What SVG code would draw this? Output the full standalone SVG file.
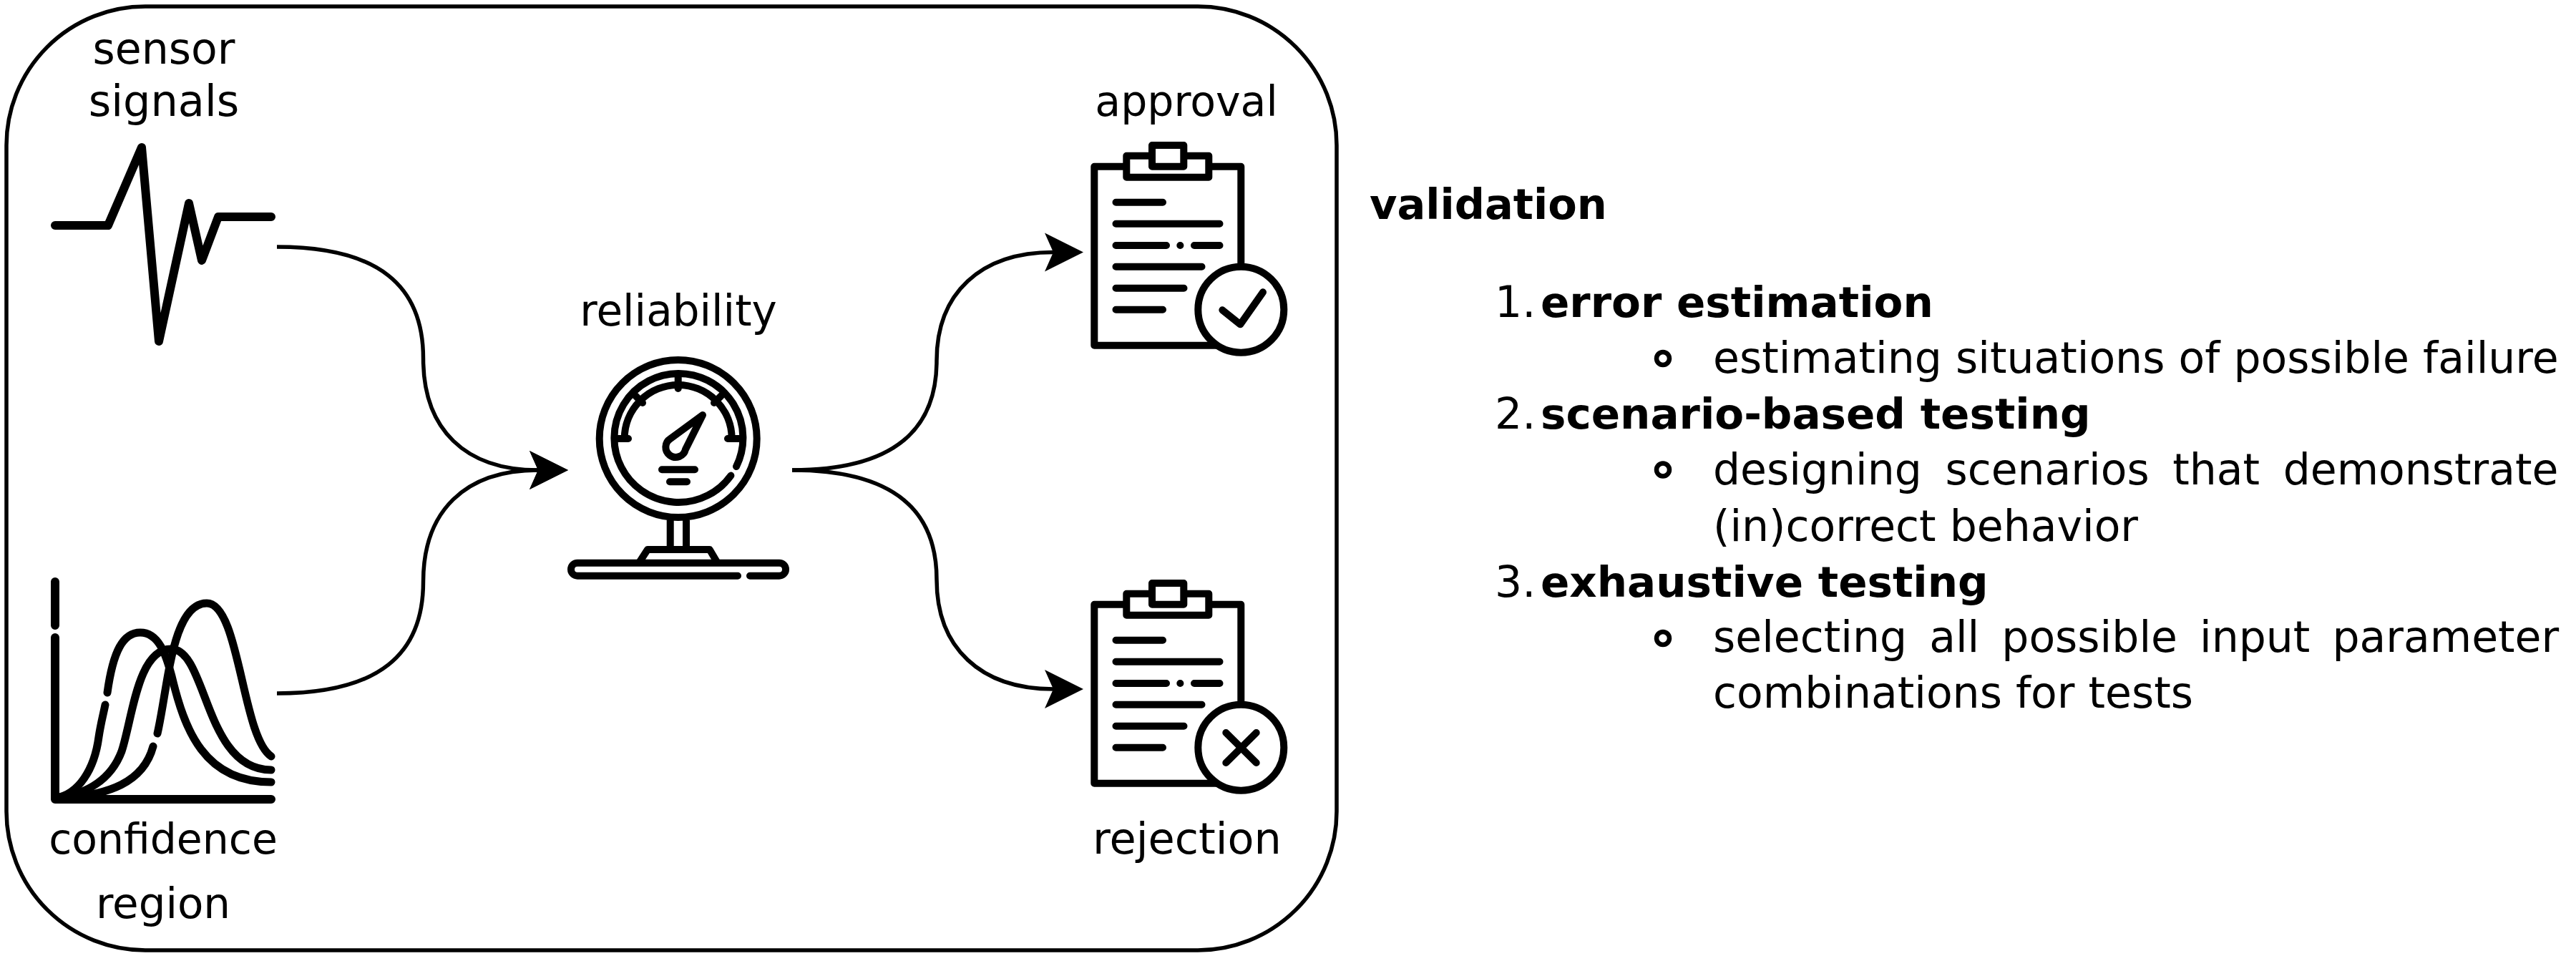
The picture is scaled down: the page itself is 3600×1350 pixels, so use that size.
<svg xmlns="http://www.w3.org/2000/svg" xmlns:xlink="http://www.w3.org/1999/xlink" width="3600" height="1350" viewBox="0 0 3600 1350">
<style>
text{font-family:"DejaVu Sans","Liberation Sans",sans-serif;fill:#000}
.l{font-size:58px;text-anchor:middle}
.t{font-size:60px}
.b{font-weight:bold;font-size:59.5px}
.ic{fill:none;stroke:#000;stroke-linecap:round;stroke-linejoin:round}
.c{fill:none;stroke:#000;stroke-width:5.5;marker-end:url(#ah)}
.w{fill:#fff}
.bu{fill:none;stroke:#000;stroke-width:6.5}
</style>
<defs>
<marker id="ah" markerUnits="userSpaceOnUse" markerWidth="54" markerHeight="54" refX="12" refY="27" orient="0" viewBox="0 0 54 54" overflow="visible"><path d="M54,27 L0,0 L12,27 L0,54 Z" fill="#000"/></marker>
<g id="clip" class="ic" stroke-width="10">
<path d="M1574,232.7 H1529.3 V482.7 H1700 M1690,232.7 H1734.3 V375"/>
<rect x="1574.3" y="217.7" width="115" height="30" class="w"/>
<rect x="1610" y="203" width="44.3" height="29.7" class="w"/>
<path d="M1559.5,282.7 H1625 M1559.5,312.7 H1704.5 M1559.5,343 H1630 M1649.3,343 H1649.4 M1669,343 H1704.5 M1559.5,372.7 H1679.5 M1559.5,402.7 H1654.5 M1559.5,432.7 H1625"/>
<circle cx="1734.3" cy="432.7" r="60" class="w"/>
</g>
</defs>
<rect width="3600" height="1350" fill="#fff"/>
<rect id="frame" x="9" y="9" width="1859" height="1319" rx="194" ry="194" fill="none" stroke="#000" stroke-width="5.5"/>
<g id="connectors">
<path class="c" d="M387,345 C530,345 591.5,400 591.5,501 C591.5,600 650,657 752,657"/>
<path class="c" d="M387,969 C530,969 591.5,914 591.5,813 C591.5,714 650,657 752,657"/>
<path class="c" d="M1107,657 C1250,657 1309,600 1309,504 C1309,410 1370,352.5 1472,352.5"/>
<path class="c" d="M1107,657 C1250,657 1309,714 1309,810 C1309,905 1370,963 1472,963"/>
</g>
<g id="sensor-signals">
<text class="l" style="font-size:60px" x="229" y="89">sensor</text>
<text class="l" style="font-size:60.5px" x="229" y="162">signals</text>
<path class="ic" stroke-width="12" d="M77,315 H151 L198,206 L222,477 L264,284 L282,364 L305,303 H379"/>
</g>
<g id="confidence-region">
<text class="l" style="font-size:58.4px" x="228" y="1193">confidence</text>
<text class="l" style="font-size:59.5px" x="228" y="1283">region</text>
<path class="ic" stroke-width="12" d="M77,813 V874 M77,891 V1117 H379"/>
<path class="ic" stroke-width="11" d="M78,1115 C110,1110 132,1075 138,1030 C141,1010 144,1000 147,985 M150,968 C158,910 172,884 196,884 C222,884 232,915 240,945 C258,1020 285,1093 379,1093"/>
<path class="ic" stroke-width="11" d="M78,1116 C120,1110 155,1090 170,1050 C185,1005 192,907 239,907 C290,907 285,1076 379,1076"/>
<path class="ic" stroke-width="11" d="M90,1116 C150,1110 200,1095 214,1043 M220,1025 C235,960 240,843 289,843 C335,843 338,1030 379,1057"/>
</g>
<g id="reliability">
<text class="l" style="font-size:59.6px" x="948" y="455">reliability</text>
<g class="ic" stroke-width="10">
<circle cx="947.7" cy="613" r="110"/>
<path d="M1029,652 A90,90 0 1 0 1021.4,664.6"/>
<path d="M872.7,613 A75,75 0 0 1 1022.7,613"/>
<path d="M862,613 H878 M1017,613 H1033 M947.7,525 V543 M888,553 L898,563 M1008,553 L998,563"/>
<path d="M982,580 L937,613 A14,14 0 1 0 958,628 Z"/>
<path d="M925,656.3 H971 M936,673.3 H960"/>
<path stroke-linecap="butt" d="M936.7,726.7 V768 M959,726.7 V768"/>
<path d="M894,785 L905,768 H991.7 L1001.7,785"/>
<path d="M1031,804.7 H807 A9,9 0 0 1 807,786.7 H1089 A9,9 0 0 1 1089,804.7 H1048"/>
</g>
</g>
<g id="approval">
<text class="l" style="font-size:58.5px" x="1658" y="161.7">approval</text>
<use href="#clip" xlink:href="#clip"/>
<path class="ic" stroke-width="10" d="M1708.3,433.3 L1733.3,453.3 L1765,408.3"/>
</g>
<g id="rejection">
<text class="l" style="font-size:60.5px" x="1659" y="1193">rejection</text>
<use href="#clip" xlink:href="#clip" y="612"/>
<path class="ic" stroke-width="10" d="M1713.3,1024 L1755.7,1066 M1755.7,1024 L1713.3,1066"/>
</g>
<g id="validation-text">
<text class="b" style="font-size:59px" x="1914" y="306">validation</text>
<text class="t" x="2089" y="443">1.</text><text class="b" x="2153" y="443">error estimation</text>
<circle class="bu" cx="2324" cy="501" r="9"/>
<text class="t" x="2394" y="521">estimating situations of possible failure</text>
<text class="t" x="2089" y="598.5">2.</text><text class="b" x="2153" y="598.5">scenario-based testing</text>
<circle class="bu" cx="2324" cy="656.5" r="9"/>
<text class="t" x="2394" y="677" word-spacing="13.5">designing scenarios that demonstrate</text>
<text class="t" x="2394" y="756">(in)correct behavior</text>
<text class="t" x="2089" y="834">3.</text><text class="b" x="2153" y="834">exhaustive testing</text>
<circle class="bu" cx="2324" cy="892" r="9"/>
<text class="t" x="2394" y="911" word-spacing="12">selecting all possible input parameter</text>
<text class="t" x="2394" y="989">combinations for tests</text>
</g>
</svg>
